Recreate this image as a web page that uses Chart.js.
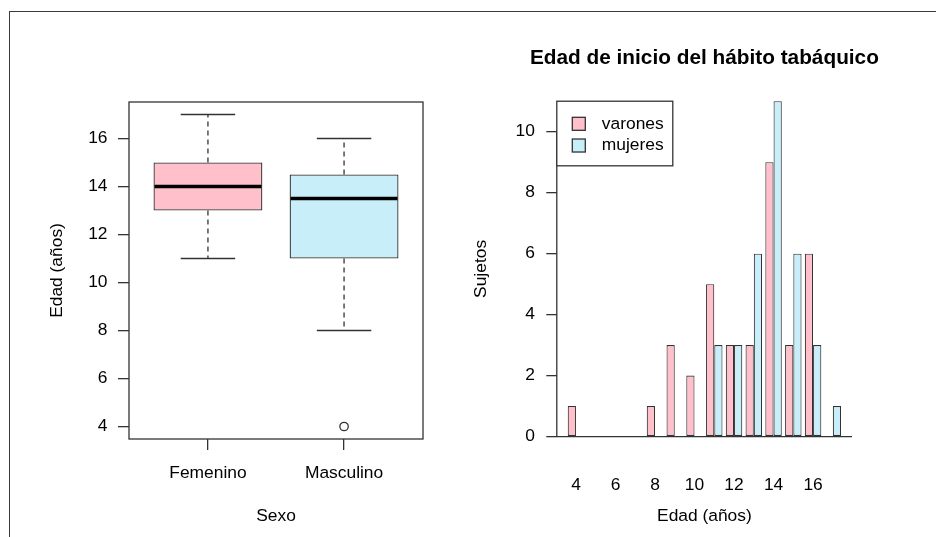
<!DOCTYPE html>
<html lang="es">
<head>
<meta charset="utf-8">
<title>Edad de inicio del hábito tabáquico</title>
<script src="https://cdn.jsdelivr.net/npm/chart.js@4.4.1/dist/chart.umd.min.js"></script>
<style>
  html, body { margin: 0; padding: 0; background: #fff; overflow: hidden; }
  body { width: 936px; height: 537px; position: relative; }
  .marco { position: absolute; left: 9px; top: 11px; width: 940px; height: 540px;
           border-top: 1.5px solid #3a3a3a; border-left: 1.5px solid #3a3a3a; }
  canvas { position: absolute; top: 0; }
  #cajas { left: 0; }
  #barras { left: 468px; }
</style>
</head>
<body>
<div class="marco"></div>
<canvas id="cajas" width="468" height="537"></canvas>
<canvas id="barras" width="468" height="537"></canvas>
<script>
// datos del diagrama de cajas
const sexos = ['Femenino', 'Masculino'];
const edadMin = [11, 8];
const edadQ1 = [13, 11];
const edadMediana = [14, 13.5];
const edadQ3 = [15, 14.5];
const edadMax = [17, 16];
const atipicosGrupo = [2];
const atipicosValor = [4];
const ticksEdad = [4, 6, 8, 10, 12, 14, 16];

// datos del histograma por sexo
const edades = [4, 5, 6, 7, 8, 9, 10, 11, 12, 13, 14, 15, 16, 17];
const varones = [1, 0, 0, 0, 1, 3, 2, 5, 3, 3, 9, 3, 6, 0];
const mujeres = [0, 0, 0, 0, 0, 0, 0, 3, 3, 6, 11, 6, 3, 1];
const ticksEdadX = [4, 6, 8, 10, 12, 14, 16];
const ticksSujetos = [0, 2, 4, 6, 8, 10];
const titulo = 'Edad de inicio del hábito tabáquico';

const rosa = '#FFC0CB';
const celeste = '#C8EEFA';
const linea = '#333';
const fuente = { family: '"Liberation Sans", Arial, Helvetica, sans-serif', size: 17.4 };

Chart.defaults.color = '#000';
Chart.defaults.font.family = fuente.family;
Chart.defaults.font.size = fuente.size;

//bigotes, mediana y marco del boxplot
const bigotes = {
    id: 'bigotes',
    afterDatasetsDraw(chart) {
        const { ctx, scales: { y } } = chart;
        const cajasMeta = chart.getDatasetMeta(0).data;
        ctx.save();
        ctx.strokeStyle = linea;
        cajasMeta.forEach((caja, i) => {
            const cx = caja.x;
            const w = caja.width;
            ctx.lineWidth = 1.3;
            ctx.setLineDash([5, 4]);
            ctx.beginPath();
            ctx.moveTo(cx, y.getPixelForValue(edadQ3[i]));
            ctx.lineTo(cx, y.getPixelForValue(edadMax[i]));
            ctx.moveTo(cx, y.getPixelForValue(edadQ1[i]));
            ctx.lineTo(cx, y.getPixelForValue(edadMin[i]));
            ctx.stroke();
            ctx.setLineDash([]);
            ctx.beginPath();
            ctx.moveTo(cx - w / 4, y.getPixelForValue(edadMax[i]));
            ctx.lineTo(cx + w / 4, y.getPixelForValue(edadMax[i]));
            ctx.moveTo(cx - w / 4, y.getPixelForValue(edadMin[i]));
            ctx.lineTo(cx + w / 4, y.getPixelForValue(edadMin[i]));
            ctx.stroke();
            ctx.strokeStyle = '#000';
            ctx.lineWidth = 3.6;
            ctx.beginPath();
            ctx.moveTo(cx - w / 2 + 1, y.getPixelForValue(edadMediana[i]));
            ctx.lineTo(cx + w / 2 - 1, y.getPixelForValue(edadMediana[i]));
            ctx.stroke();
            ctx.strokeStyle = linea;
        });
        const a = chart.chartArea;
        ctx.lineWidth = 1.3;
        ctx.strokeRect(a.left, a.top, a.right - a.left, a.bottom - a.top);
        ctx.restore();
    }
};

const cajas = new Chart(document.getElementById('cajas'), {
    type: 'bar',
    data: {
        datasets: [{
            type: 'bar',
            data: sexos.map((s, i) => ({ x: i + 1, y: [edadQ1[i], edadQ3[i]] })),
            backgroundColor: [rosa, celeste],
            borderColor: linea,
            borderWidth: 1.3,
            borderSkipped: false,
            categoryPercentage: 1,
            barPercentage: 0.8
        }, {
            type: 'scatter',
            data: atipicosGrupo.map((g, i) => ({ x: g, y: atipicosValor[i] })),
            pointStyle: 'circle',
            pointRadius: 4.2,
            borderColor: linea,
            backgroundColor: '#fff',
            borderWidth: 1.3
        }]
    },
    options: {
        responsive: false,
        animation: false,
        layout: { padding: { left: 0, right: 45, top: 102, bottom: 0 } },
        plugins: { legend: { display: false }, tooltip: { enabled: false } },
        scales: {
            x: {
                type: 'linear',
                offset: false,
                min: 0.42,
                max: 2.58,
                afterBuildTicks: s => { s.ticks = sexos.map((n, i) => ({ value: i + 1 })); },
                afterFit: s => { s.height = 98; },
                grid: { offset: false, drawOnChartArea: false, tickLength: 11, color: linea, lineWidth: 1.3 },
                border: { display: false },
                ticks: { padding: 13, callback: v => sexos[v - 1] },
                title: { display: true, text: 'Sexo', padding: { top: 0, bottom: 10.3 } }
            },
            y: {
                min: 3.48,
                max: 17.52,
                afterBuildTicks: s => { s.ticks = ticksEdad.map(v => ({ value: v })); },
                afterFit: s => { s.width = 129; },
                grid: { drawOnChartArea: false, tickLength: 11, color: linea, lineWidth: 1.3 },
                border: { display: false },
                ticks: { padding: 10.5 },
                title: { display: true, text: 'Edad (años)', padding: { top: 46.5, bottom: 0 } }
            }
        }
    },
    plugins: [bigotes]
});

//eje, linea del cero, titulo y leyenda del histograma
const ejes = {
    id: 'ejes',
    afterDatasetsDraw(chart) {
        const { ctx, chartArea: a, scales: { y } } = chart;
        ctx.save();
        ctx.strokeStyle = linea;
        ctx.lineWidth = 1.3;
        ctx.beginPath();
        ctx.moveTo(a.left, y.getPixelForValue(0));
        ctx.lineTo(a.right, y.getPixelForValue(0));
        ctx.moveTo(a.left, y.getPixelForValue(ticksSujetos[0]));
        ctx.lineTo(a.left, y.getPixelForValue(ticksSujetos[ticksSujetos.length - 1]));
        ctx.stroke();

        // titulo centrado sobre el area del grafico
        ctx.fillStyle = '#000';
        ctx.font = 'bold 20.8px ' + fuente.family;
        ctx.textAlign = 'center';
        ctx.textBaseline = 'middle';
        ctx.fillText(titulo, (a.left + a.right) / 2, 58);

        // leyenda arriba a la izquierda
        const top = y.getPixelForValue(11);
        const left = a.left;
        ctx.fillStyle = '#fff';
        ctx.fillRect(left, top, 116, 64.6);
        ctx.strokeRect(left, top, 116, 64.6);
        ctx.font = fuente.size + 'px ' + fuente.family;
        ctx.textAlign = 'left';
        chart.data.datasets.forEach((ds, i) => {
            const cy = top + 22.6 + i * 21.7;
            ctx.fillStyle = ds.backgroundColor;
            ctx.fillRect(left + 15.5, cy - 6.5, 13, 13);
            ctx.strokeRect(left + 15.5, cy - 6.5, 13, 13);
            ctx.fillStyle = '#000';
            ctx.fillText(ds.label, left + 45, cy);
        });
        ctx.restore();
    }
};

const barras = new Chart(document.getElementById('barras'), {
    type: 'bar',
    data: {
        datasets: [{
            label: 'varones',
            data: edades.map((e, i) => ({ x: e, y: varones[i] })),
            backgroundColor: rosa
        }, {
            label: 'mujeres',
            data: edades.map((e, i) => ({ x: e, y: mujeres[i] })),
            backgroundColor: celeste
        }]
    },
    options: {
        responsive: false,
        animation: false,
        layout: { padding: { left: 0, right: 84, top: 87.8, bottom: 0 } },
        datasets: {
            bar: {
                categoryPercentage: 2 / 2.4,
                barPercentage: 1,
                borderColor: linea,
                borderWidth: 1.1,
                borderSkipped: false
            }
        },
        plugins: {
            legend: { display: false },
            tooltip: { enabled: false }
        },
        scales: {
            x: {
                type: 'linear',
                offset: false,
                min: 3.03,
                max: 17.97,
                afterBuildTicks: s => { s.ticks = ticksEdadX.map(v => ({ value: v })); },
                afterFit: s => { s.height = 87; },
                grid: { display: false, offset: false },
                border: { display: false },
                ticks: { padding: 17 },
                title: { display: true, text: 'Edad (años)', padding: { top: 0, bottom: 10 } }
            },
            y: {
                min: -0.44,
                max: 11.44,
                afterBuildTicks: s => { s.ticks = ticksSujetos.map(v => ({ value: v })); },
                afterFit: s => { s.width = 88.8; },
                grid: { drawOnChartArea: false, tickLength: 10.5, color: linea, lineWidth: 1.3 },
                border: { display: false },
                ticks: { padding: 11.5 },
                title: { display: true, text: 'Sujetos', padding: { top: 2.6, bottom: 0 } }
            }
        }
    },
    plugins: [ejes]
});
</script>
</body>
</html>
